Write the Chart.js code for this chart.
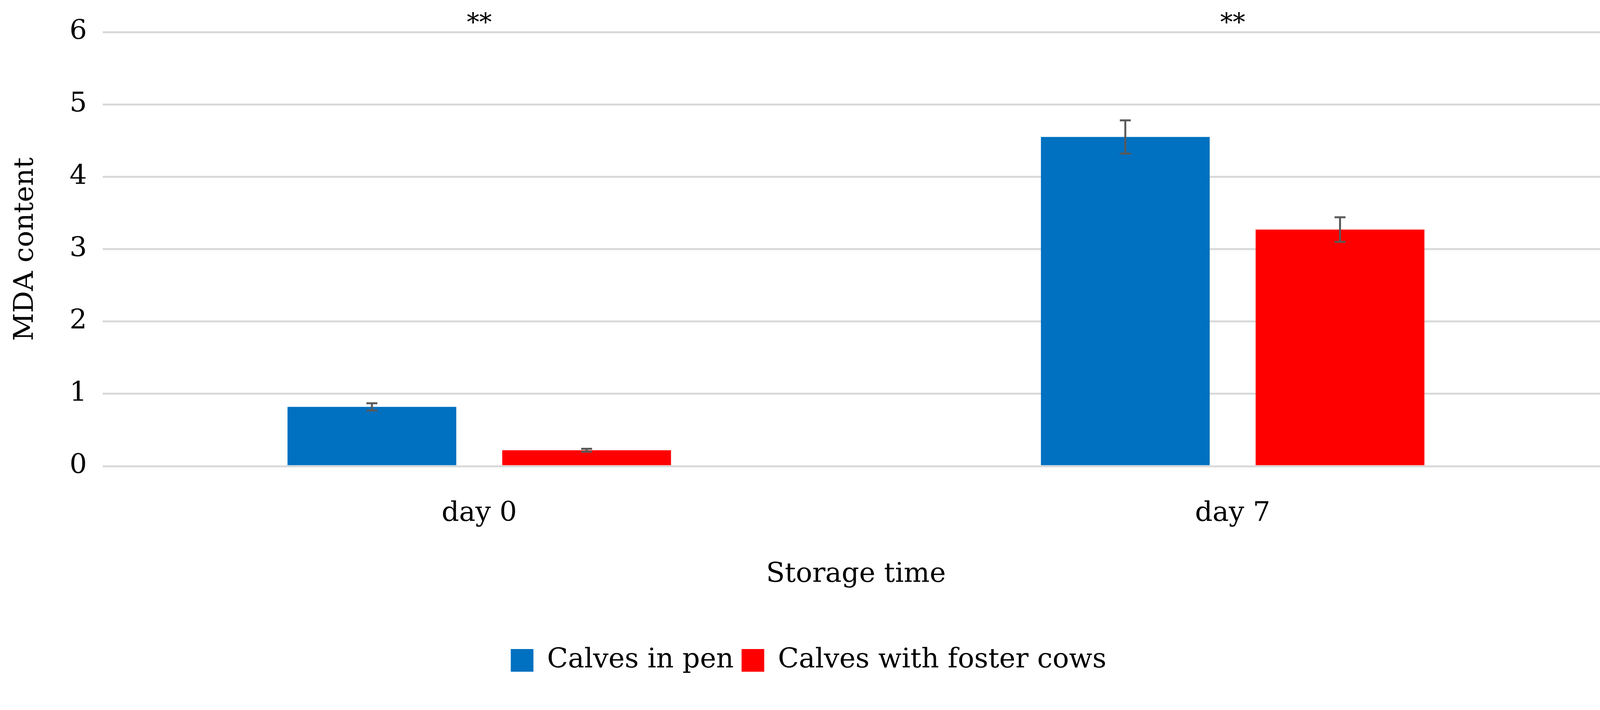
<!DOCTYPE html>
<html><head><meta charset="utf-8">
<script src="https://cdn.jsdelivr.net/npm/chart.js@4"></script>
<style>html,body{margin:0;padding:0;background:#fff}#wrap{width:4220px;height:1817px}</style>
</head><body><div id="wrap"><canvas id="c" width="4220" height="1817"></canvas></div>
<script>
const categories = ["day 0", "day 7"];
const penValues = [0.82, 4.55];
const penErrors = [0.05, 0.23];
const fosterValues = [0.22, 3.27];
const fosterErrors = [0.02, 0.17];
const significance = ["**", "**"];
const yTicks = [0, 1, 2, 3, 4, 5, 6];
const FONT = "'DejaVu Serif', serif";
const FS = 70;

const errPlugin = {
  id: 'err',
  afterDatasetsDraw(chart) {
    const ctx = chart.ctx, y = chart.scales.y, x = chart.scales.x;
    const errs = [penErrors, fosterErrors];
    chart.data.datasets.forEach((ds, i) => {
      const meta = chart.getDatasetMeta(i);
      meta.data.forEach((bar, j) => {
        const v = ds.data[j], e = errs[i][j];
        const t = y.getPixelForValue(v + e), b = y.getPixelForValue(v - e);
        ctx.save();
        ctx.strokeStyle = '#595959'; ctx.lineWidth = 5;
        ctx.beginPath();
        ctx.moveTo(bar.x, t); ctx.lineTo(bar.x, b);
        ctx.moveTo(bar.x - 14, t); ctx.lineTo(bar.x + 14, t);
        ctx.moveTo(bar.x - 14, b); ctx.lineTo(bar.x + 14, b);
        ctx.stroke(); ctx.restore();
      });
    });
    ctx.save();
    ctx.fillStyle = '#000'; ctx.font = "64px " + FONT;
    ctx.textAlign = 'center'; ctx.textBaseline = 'middle';
    categories.forEach((c, j) => {
      ctx.fillText(significance[j], x.getPixelForValue(j), y.getPixelForValue(6) - 20);
    });
    ctx.restore();
  }
};

new Chart(document.getElementById('c'), {
  type: 'bar',
  data: {
    labels: categories,
    datasets: [
      {label: 'Calves in pen', data: penValues, backgroundColor: '#0070C0'},
      {label: 'Calves with foster cows', data: fosterValues, backgroundColor: '#FF0000'}
    ]
  },
  options: {
    responsive: false, animation: false, devicePixelRatio: 1,
    categoryPercentage: 0.57, barPercentage: 0.786,
    layout: {padding: {top: 49, right: 100, left: 20, bottom: 82}},
    plugins: {
      legend: {position: 'bottom', labels: {font: {family: FONT, size: FS}, color: '#000', boxWidth: 58, boxHeight: 58, padding: 20}},
      tooltip: {enabled: false}
    },
    scales: {
      x: {
        grid: {display: false}, border: {display: false},
        ticks: {font: {family: FONT, size: FS}, color: '#000', padding: 72},
        title: {display: true, text: 'Storage time', font: {family: FONT, size: FS}, color: '#000', padding: {top: 0, bottom: 122}}
      },
      y: {
        min: 0, max: 6,
        afterBuildTicks: s => { s.ticks = yTicks.map(v => ({value: v})); },
        grid: {color: '#d9d9d9', lineWidth: 5, drawTicks: false}, border: {display: false},
        ticks: {font: {family: FONT, size: FS}, color: '#000', padding: 40},
        title: {display: true, text: 'MDA content', font: {family: FONT, size: FS}, color: '#000', padding: {bottom: 30}}
      }
    }
  },
  plugins: [errPlugin]
});
</script></body></html>
